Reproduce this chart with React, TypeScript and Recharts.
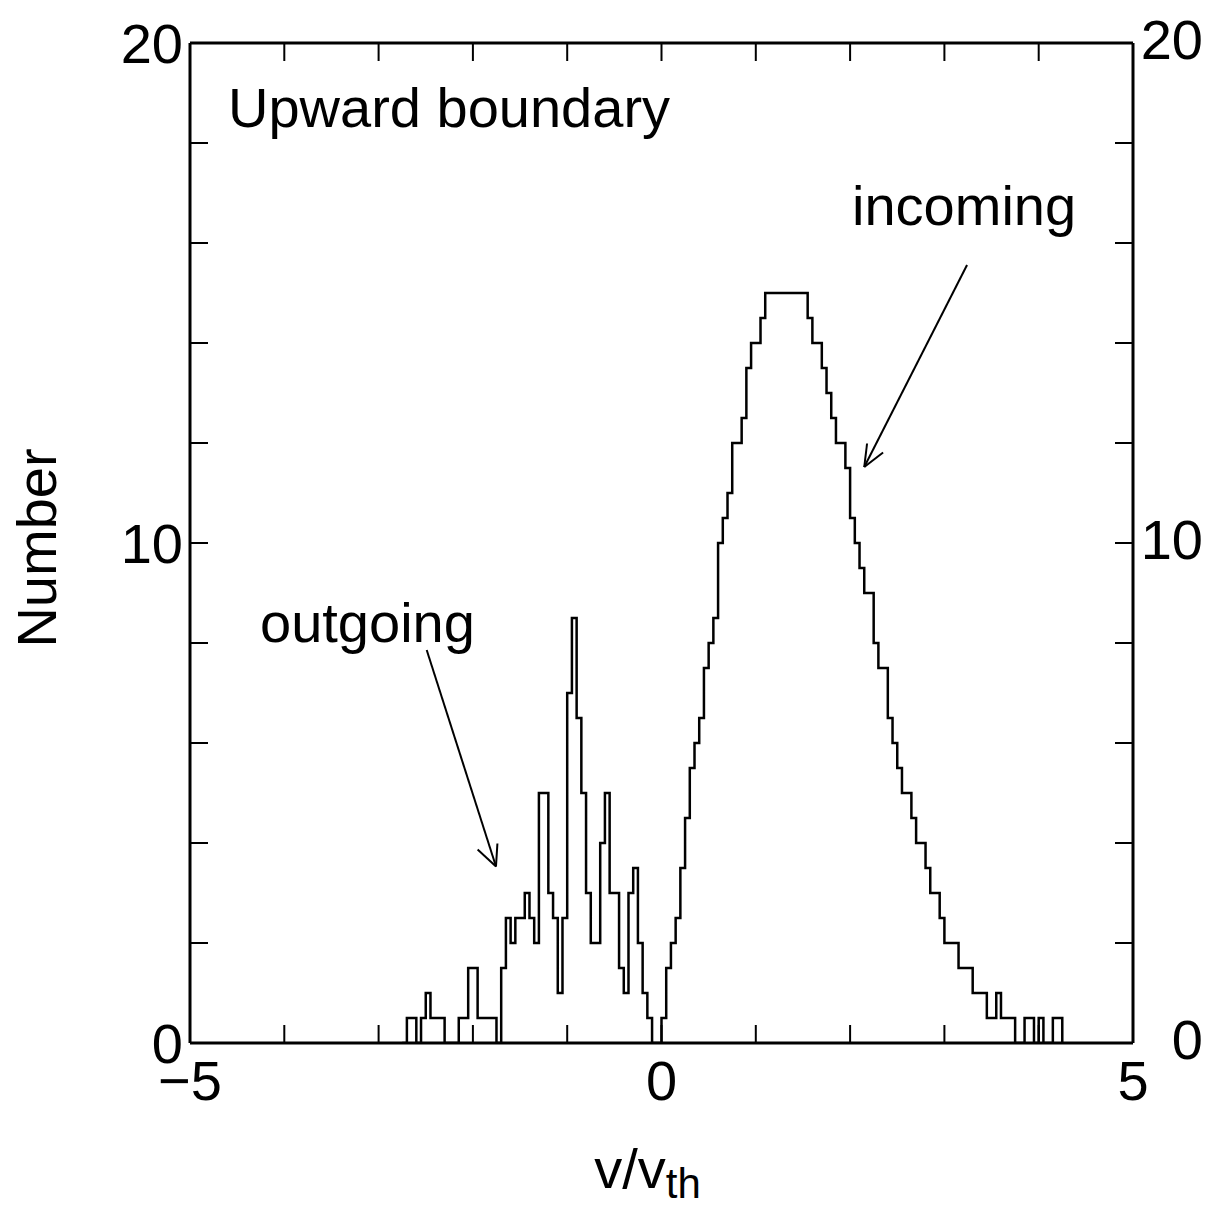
import { LineChart, Line, XAxis, YAxis, ReferenceLine, Label } from 'recharts'

const BIN_WIDTH = 0.05
const OUTGOING_START = -2.75
const INCOMING_START = 0

// counts per 0.05-wide bin
const outgoingCounts = [
  0, 0.5, 0.5, 0, 0.5, 1.0, 0.5, 0.5, 0.5, 0,
  0, 0, 0.5, 0.5, 1.5, 1.5, 0.5, 0.5, 0.5, 0.5,
  0, 1.5, 2.5, 2.0, 2.5, 2.5, 3.0, 2.5, 2.0, 5.0,
  5.0, 3.0, 2.5, 1.0, 2.5, 7.0, 8.5, 6.5, 5.0, 3.0,
  2.0, 2.0, 4.0, 5.0, 3.0, 3.0, 1.5, 1.0, 3.0, 3.5,
  2.0, 1.0, 0.5, 0, 0,
]

const incomingCounts = [
  0.5, 1.5, 2.0, 2.5, 3.5, 4.5, 5.5, 6.0, 6.5, 7.5,
  8.0, 8.5, 10.0, 10.5, 11.0, 12.0, 12.0, 12.5, 13.5, 14.0,
  14.0, 14.5, 15, 15, 15, 15, 15, 15, 15, 15,
  15, 14.5, 14.0, 14.0, 13.5, 13.0, 12.5, 12.0, 12.0, 11.5,
  10.5, 10.0, 9.5, 9.0, 9.0, 8.0, 7.5, 7.5, 6.5, 6.0,
  5.5, 5.0, 5.0, 4.5, 4.0, 4.0, 3.5, 3.0, 3.0, 2.5,
  2.0, 2.0, 2.0, 1.5, 1.5, 1.5, 1.0, 1.0, 1.0, 0.5,
  0.5, 1.0, 0.5, 0.5, 0.5, 0, 0, 0.5, 0.5, 0,
  0.5, 0, 0, 0.5, 0.5, 0,
]

const xTicks = [-5, -4, -3, -2, -1, 0, 1, 2, 3, 4, 5]
const xLabels = [-5, 0, 5]
const yTicks = [0, 2, 4, 6, 8, 10, 12, 14, 16, 18, 20]
const yLabels = [0, 10, 20]

// arrows, in data units
const incomingArrow = [{ x: 3.24, y: 15.56 }, { x: 2.15, y: 11.52 }]
const incomingHead = [{ x: 2.18, y: 11.99 }, { x: 2.35, y: 11.81 }]
const outgoingArrow = [{ x: -2.49, y: 7.86 }, { x: -1.755, y: 3.53 }]
const outgoingHead = [{ x: -1.95, y: 3.87 }, { x: -1.74, y: 3.99 }]

const rows = [
  ...outgoingCounts.map((n, i) => ({ v: OUTGOING_START + i * BIN_WIDTH, n })),
  ...incomingCounts.map((n, i) => ({ v: INCOMING_START + i * BIN_WIDTH, n })),
]

const FONT = '"Liberation Sans", Arial, Helvetica, sans-serif'
const TICK_LEN = 18
const FS = 56

const fmt = (v: number) => (v < 0 ? '\u2212' + Math.abs(v) : String(v))

function BottomTick({ x, y, payload }: any) {
  const v = payload.value
  return (
    <g>
      <line x1={x} y1={y} x2={x} y2={y - TICK_LEN} stroke="#000" strokeWidth={2} />
      {xLabels.includes(v) && (
        <text x={x} y={y + 57} textAnchor="middle" fontSize={FS} fontFamily={FONT} fill="#000">
          {fmt(v)}
        </text>
      )}
    </g>
  )
}

function TopTick({ x, y }: any) {
  return <line x1={x} y1={y} x2={x} y2={y + TICK_LEN} stroke="#000" strokeWidth={2} />
}

function LeftTick({ x, y, payload }: any) {
  const v = payload.value
  return (
    <g>
      <line x1={x} y1={y} x2={x + TICK_LEN} y2={y} stroke="#000" strokeWidth={2} />
      {yLabels.includes(v) && (
        <text x={x - 7} y={y + 20} textAnchor="end" fontSize={FS} fontFamily={FONT} fill="#000">
          {v}
        </text>
      )}
    </g>
  )
}

function RightTick({ x, y, payload }: any) {
  const v = payload.value
  return (
    <g>
      <line x1={x} y1={y} x2={x - TICK_LEN} y2={y} stroke="#000" strokeWidth={2} />
      {yLabels.includes(v) && (
        <text x={x + 70} y={y + 16} textAnchor="end" fontSize={FS} fontFamily={FONT} fill="#000">
          {v}
        </text>
      )}
    </g>
  )
}

function XTitle({ viewBox }: any) {
  const cx = viewBox.x + viewBox.width / 2 - 14
  return (
    <text x={cx} y={viewBox.y + 145} textAnchor="middle" fontSize={FS} fontFamily={FONT} fill="#000">
      v/v
      <tspan fontSize={42} dy={10}>th</tspan>
    </text>
  )
}

function YTitle({ viewBox }: any) {
  const tx = viewBox.x - 34
  const ty = viewBox.y + viewBox.height / 2 + 5
  return (
    <text
      x={tx}
      y={ty}
      transform={`rotate(-90, ${tx}, ${ty})`}
      textAnchor="middle"
      fontSize={FS}
      fontFamily={FONT}
      fill="#000"
    >
      Number
    </text>
  )
}

const axisLine = { stroke: '#000', strokeWidth: 3 }
const arrowProps = { stroke: '#000', strokeWidth: 2, xAxisId: 'b', yAxisId: 'l', ifOverflow: 'visible' as const }

export default function App() {
  return (
    <div style={{ position: 'absolute', left: 0, top: 0, width: 1207, height: 1207, background: '#fff' }}>
      <LineChart width={1207} height={1207} data={rows} margin={{ top: 23, right: 4, bottom: 44, left: 90 }}>
        <XAxis
          xAxisId="b"
          dataKey="v"
          type="number"
          domain={[-5, 5]}
          allowDataOverflow
          ticks={xTicks}
          interval={0}
          height={120}
          tickSize={0}
          tickMargin={0}
          tickLine={false}
          axisLine={axisLine}
          tick={<BottomTick />}
        >
          <Label content={<XTitle />} />
        </XAxis>
        <XAxis
          xAxisId="t"
          orientation="top"
          dataKey="v"
          type="number"
          domain={[-5, 5]}
          allowDataOverflow
          ticks={xTicks}
          interval={0}
          height={20}
          tickSize={0}
          tickMargin={0}
          tickLine={false}
          axisLine={axisLine}
          tick={<TopTick />}
        />
        <YAxis
          yAxisId="l"
          type="number"
          domain={[0, 20]}
          allowDataOverflow
          ticks={yTicks}
          interval={0}
          width={100}
          tickSize={0}
          tickMargin={0}
          tickLine={false}
          axisLine={axisLine}
          tick={<LeftTick />}
        >
          <Label content={<YTitle />} />
        </YAxis>
        <YAxis
          yAxisId="r"
          orientation="right"
          type="number"
          dataKey="n"
          domain={[0, 20]}
          allowDataOverflow
          ticks={yTicks}
          interval={0}
          width={70}
          tickSize={0}
          tickMargin={0}
          tickLine={false}
          axisLine={axisLine}
          tick={<RightTick />}
        />
        <Line
          xAxisId="b"
          yAxisId="l"
          type="stepAfter"
          dataKey="n"
          stroke="#000"
          strokeWidth={2.5}
          dot={false}
          isAnimationActive={false}
        />
        <ReferenceLine segment={incomingArrow} {...arrowProps} />
        <ReferenceLine segment={[incomingArrow[1], incomingHead[0]]} {...arrowProps} />
        <ReferenceLine segment={[incomingArrow[1], incomingHead[1]]} {...arrowProps} />
        <ReferenceLine segment={outgoingArrow} {...arrowProps} />
        <ReferenceLine segment={[outgoingArrow[1], outgoingHead[0]]} {...arrowProps} />
        <ReferenceLine segment={[outgoingArrow[1], outgoingHead[1]]} {...arrowProps} />
      </LineChart>
      <svg
        width={1207}
        height={1207}
        style={{ position: 'absolute', left: 0, top: 0, pointerEvents: 'none' }}
        fontFamily={FONT}
        fontSize={FS}
        fill="#000"
      >
        <text x={228} y={127}>Upward boundary</text>
        <text x={852} y={225}>incoming</text>
        <text x={260} y={642}>outgoing</text>
      </svg>
    </div>
  )
}
